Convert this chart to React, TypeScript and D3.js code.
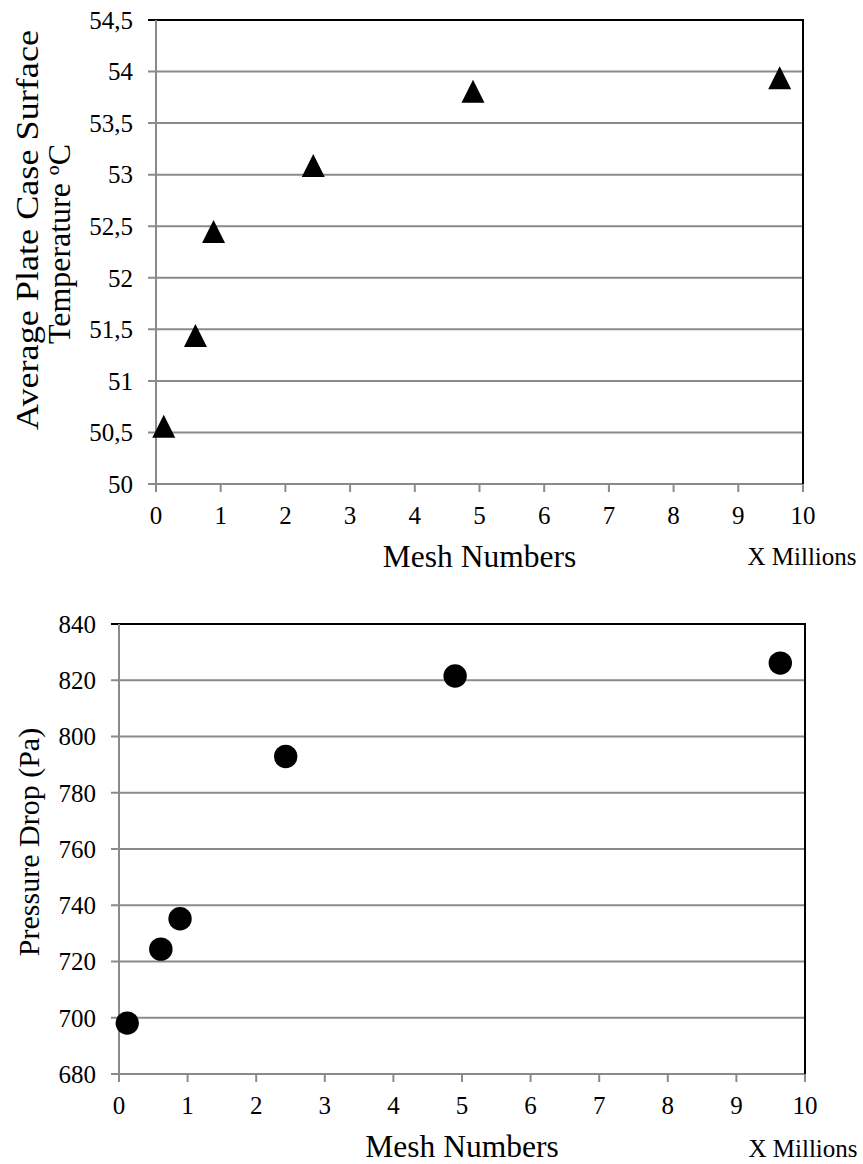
import React from "react";
import * as d3 from "d3";

// Mesh counts (millions) shared by both studies
const meshMillions = [0.12, 0.61, 0.89, 2.43, 4.9, 9.64];
// Average plate case surface temperature (°C)
const surfaceTemp = [50.56, 51.44, 52.45, 53.09, 53.81, 53.94];
// Pressure drop (Pa)
const pressureDrop = [698.1, 724.4, 735.2, 792.9, 821.5, 826.1];

const xTicks = [0, 1, 2, 3, 4, 5, 6, 7, 8, 9, 10];
const tempTicks = [50, 50.5, 51, 51.5, 52, 52.5, 53, 53.5, 54, 54.5];
const pressureTicks = [680, 700, 720, 740, 760, 780, 800, 820, 840];

const FONT = "Liberation Serif, Tinos, DejaVu Serif, serif";
const GRID = "#8a8a8a";

type TitleLine = { text: string; x: number; y: number; size: number; length?: number };

type PanelProps = {
  left: number;
  right: number;
  top: number;
  bottom: number;
  yDomain: [number, number];
  yTicks: number[];
  yFormat: (v: number) => string;
  values: number[];
  marker: "triangle" | "circle";
  titleLines: TitleLine[];
  millionsX: number;
  millionsY: number;
};

// Isosceles triangle marker, as tall as it is wide, centred on the point
const triangleMarker = (s: number) =>
  d3.line()([
    [0, -s / 2],
    [s / 2, s / 2],
    [-s / 2, s / 2],
  ]) + "Z";

function Panel(p: PanelProps) {
  const x = d3.scaleLinear().domain([0, 10]).range([p.left, p.right]);
  const y = d3.scaleLinear().domain(p.yDomain).range([p.bottom, p.top]);
  const tri = triangleMarker(23);
  return (
    <g>
      {p.yTicks.map((t) => (
        <g key={"y" + t}>
          <line
            x1={p.left - 8}
            x2={p.right}
            y1={y(t)}
            y2={y(t)}
            stroke={t === p.yDomain[1] ? "#000" : GRID}
            strokeWidth={2}
          />
          <text x={p.left - 23} y={y(t)} dy="0.35em" textAnchor="end" fontSize={25}>
            {p.yFormat(t)}
          </text>
        </g>
      ))}
      {xTicks.map((t) => (
        <g key={"x" + t}>
          <line x1={x(t)} x2={x(t)} y1={p.bottom} y2={p.bottom + 8} stroke={GRID} strokeWidth={2} />
          <text x={x(t)} y={p.bottom + 40} textAnchor="middle" fontSize={25}>
            {t}
          </text>
        </g>
      ))}
      <line x1={p.right} x2={p.right} y1={p.top - 1} y2={p.bottom} stroke="#000" strokeWidth={2} />
      <line x1={p.left} x2={p.left} y1={p.top} y2={p.bottom + 8} stroke={GRID} strokeWidth={2} />
      {meshMillions.map((m, i) =>
        p.marker === "triangle" ? (
          <path key={i} d={tri} transform={`translate(${x(m)},${y(p.values[i])})`} fill="#000" />
        ) : (
          <circle key={i} cx={x(m)} cy={y(p.values[i])} r={11.7} fill="#000" />
        )
      )}
      {p.titleLines.map((l, i) => (
        <text
          key={i}
          transform={`translate(${l.x},${l.y}) rotate(-90)`}
          textAnchor="middle"
          fontSize={l.size}
          {...(l.length ? { textLength: l.length, lengthAdjust: "spacingAndGlyphs" } : {})}
        >
          {l.text}
        </text>
      ))}
      <text x={(p.left + p.right) / 2} y={p.bottom + 83} textAnchor="middle" fontSize={31.5}>
        Mesh Numbers
      </text>
      <text x={p.millionsX} y={p.millionsY} textAnchor="middle" fontSize={25}>
        X Millions
      </text>
    </g>
  );
}

const commaFormat = (v: number) => String(v).replace(".", ",");

export default function App() {
  return (
    <svg
      width={863}
      height={1164}
      style={{ display: "block", position: "absolute", left: 0, top: 0, fontFamily: FONT }}
    >
      <rect width={863} height={1164} fill="#fff" />
      <Panel
        left={156}
        right={803}
        top={20}
        bottom={484}
        yDomain={[50, 54.5]}
        yTicks={tempTicks}
        yFormat={commaFormat}
        values={surfaceTemp}
        marker="triangle"
        titleLines={[
          { text: "Average Plate Case Surface", x: 38, y: 230, size: 31, length: 400 },
          { text: "Temperature ºC", x: 70, y: 244, size: 31, length: 200 },
        ]}
        millionsX={802}
        millionsY={565}
      />
      <Panel
        left={119}
        right={805}
        top={624}
        bottom={1074}
        yDomain={[680, 840]}
        yTicks={pressureTicks}
        yFormat={(v) => String(v)}
        values={pressureDrop}
        marker="circle"
        titleLines={[{ text: "Pressure Drop (Pa)", x: 39, y: 842, size: 30 }]}
        millionsX={803}
        millionsY={1157}
      />
    </svg>
  );
}
